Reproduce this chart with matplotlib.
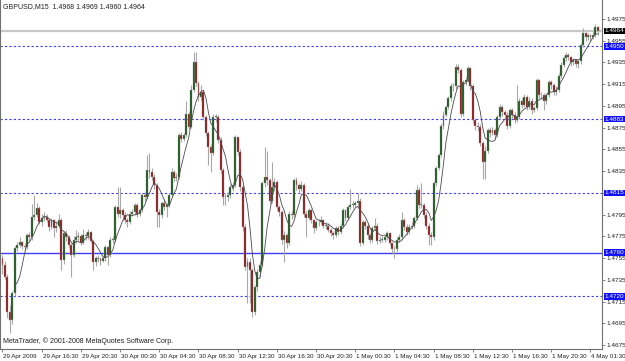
import matplotlib
matplotlib.use("Agg")
import matplotlib.pyplot as plt
import matplotlib.transforms as mtransforms
import numpy as np
import pandas as pd

plt.rcParams['font.family'] = ['Liberation Sans Narrow', 'Liberation Sans', 'DejaVu Sans']

symbol_text = "GBPUSD,M15  1.4968 1.4969 1.4960 1.4964"
copyright_text = "MetaTrader, \u00a9 2001-2008 MetaQuotes Software Corp."

first_open = 1.4755
closes = [
    1.4749, 1.4738, 1.4705, 1.4698, 1.4723, 1.4764, 1.4767, 1.4770, 1.4766, 1.4765,
    1.4776, 1.4774, 1.4793, 1.4795, 1.4801, 1.4788, 1.4792, 1.4793, 1.4790, 1.4784,
    1.4790, 1.4783, 1.4785, 1.4790, 1.4753, 1.4778, 1.4774, 1.4767, 1.4758, 1.4772,
    1.4774, 1.4775, 1.4769, 1.4776, 1.4775, 1.4779, 1.4771, 1.4751, 1.4755, 1.4754,
    1.4752, 1.4755, 1.4765, 1.4758, 1.4772, 1.4772, 1.4802, 1.4796, 1.4799, 1.4795,
    1.4790, 1.4788, 1.4796, 1.4797, 1.4804, 1.4796, 1.4799, 1.4813, 1.4811, 1.4836,
    1.4834, 1.4830, 1.4822, 1.4797, 1.4795, 1.4806, 1.4802, 1.4804, 1.4813, 1.4834,
    1.4829, 1.4830, 1.4868, 1.4865, 1.4868, 1.4888, 1.4876, 1.4910, 1.4935, 1.4916,
    1.4903, 1.4908, 1.4885, 1.4870, 1.4857, 1.4852, 1.4885, 1.4885, 1.4864, 1.4836,
    1.4811, 1.4811, 1.4813, 1.4820, 1.4822, 1.4866, 1.4853, 1.4820, 1.4784, 1.4747,
    1.4751, 1.4744, 1.4705, 1.4728, 1.4742, 1.4749, 1.4824, 1.4830, 1.4827, 1.4808,
    1.4820, 1.4825, 1.4802, 1.4797, 1.4772, 1.4776, 1.4769, 1.4796, 1.4795, 1.4827,
    1.4822, 1.4819, 1.4822, 1.4796, 1.4792, 1.4799, 1.4790, 1.4783, 1.4788, 1.4788,
    1.4790, 1.4785, 1.4785, 1.4781, 1.4778, 1.4776, 1.4783, 1.4779, 1.4785, 1.4799,
    1.4792, 1.4802, 1.4804, 1.4804, 1.4806, 1.4808, 1.4769, 1.4788, 1.4785, 1.4776,
    1.4772, 1.4783, 1.4785, 1.4771, 1.4772, 1.4772, 1.4774, 1.4778, 1.4769, 1.4763,
    1.4763, 1.4772, 1.4774, 1.4790, 1.4784, 1.4779, 1.4784, 1.4785, 1.4792, 1.4818,
    1.4804, 1.4804, 1.4795, 1.4785, 1.4776, 1.4774, 1.4824, 1.4838, 1.4850, 1.4877,
    1.4887, 1.4894, 1.4902, 1.4913, 1.4913, 1.4931, 1.4928, 1.4888, 1.4917, 1.4919,
    1.4930, 1.4913, 1.4882, 1.4877, 1.4876, 1.4861, 1.4843, 1.4854, 1.4873, 1.4870,
    1.4873, 1.4868, 1.4885, 1.4894, 1.4889, 1.4887, 1.4877, 1.4891, 1.4887, 1.4882,
    1.4885, 1.4900, 1.4896, 1.4903, 1.4894, 1.4900, 1.4891, 1.4893, 1.4919, 1.4905,
    1.4905, 1.4900, 1.4905, 1.4917, 1.4914, 1.4908, 1.4910, 1.4923, 1.4933, 1.4939,
    1.4942, 1.4940, 1.4935, 1.4937, 1.4934, 1.4936, 1.4951, 1.4962, 1.4958, 1.4960,
    1.4958, 1.4960, 1.4968, 1.4964,
]
highs = [
    1.4758, 1.4752, 1.4740, 1.4712, 1.4725, 1.4766, 1.4770, 1.4774, 1.4771, 1.4769,
    1.4778, 1.4779, 1.4805, 1.4813, 1.4806, 1.4803, 1.4796, 1.4797, 1.4796, 1.4792,
    1.4792, 1.4791, 1.4789, 1.4796, 1.4792, 1.4780, 1.4781, 1.4776, 1.4769, 1.4775,
    1.4781, 1.4779, 1.4777, 1.4782, 1.4779, 1.4782, 1.4780, 1.4772, 1.4757, 1.4758,
    1.4756, 1.4757, 1.4767, 1.4766, 1.4774, 1.4775, 1.4804, 1.4820, 1.4820, 1.4801,
    1.4797, 1.4792, 1.4798, 1.4800, 1.4806, 1.4806, 1.4801, 1.4815, 1.4816, 1.4850,
    1.4852, 1.4838, 1.4832, 1.4824, 1.4800, 1.4808, 1.4809, 1.4806, 1.4815, 1.4838,
    1.4836, 1.4833, 1.4870, 1.4871, 1.4870, 1.4900, 1.4890, 1.4914, 1.4945, 1.4945,
    1.4918, 1.4914, 1.4910, 1.4887, 1.4872, 1.4860, 1.4888, 1.4888, 1.4887, 1.4866,
    1.4838, 1.4815, 1.4816, 1.4823, 1.4825, 1.4868, 1.4866, 1.4855, 1.4822, 1.4786,
    1.4755, 1.4755, 1.4746, 1.4730, 1.4745, 1.4752, 1.4826, 1.4857, 1.4854, 1.4829,
    1.4843, 1.4829, 1.4827, 1.4804, 1.4799, 1.4780, 1.4778, 1.4798, 1.4799, 1.4829,
    1.4830, 1.4824, 1.4826, 1.4824, 1.4798, 1.4801, 1.4800, 1.4791, 1.4790, 1.4791,
    1.4794, 1.4791, 1.4788, 1.4787, 1.4783, 1.4780, 1.4785, 1.4785, 1.4787, 1.4801,
    1.4800, 1.4804, 1.4819, 1.4808, 1.4808, 1.4815, 1.4810, 1.4790, 1.4790, 1.4787,
    1.4778, 1.4785, 1.4792, 1.4787, 1.4775, 1.4775, 1.4776, 1.4780, 1.4779, 1.4770,
    1.4766, 1.4774, 1.4777, 1.4797, 1.4792, 1.4786, 1.4786, 1.4788, 1.4794, 1.4822,
    1.4820, 1.4824, 1.4806, 1.4797, 1.4787, 1.4779, 1.4826, 1.4840, 1.4852, 1.4879,
    1.4890, 1.4896, 1.4904, 1.4916, 1.4916, 1.4934, 1.4934, 1.4930, 1.4919, 1.4922,
    1.4932, 1.4931, 1.4915, 1.4884, 1.4880, 1.4878, 1.4863, 1.4858, 1.4875, 1.4876,
    1.4876, 1.4875, 1.4887, 1.4897, 1.4896, 1.4891, 1.4889, 1.4893, 1.4893, 1.4889,
    1.4914, 1.4902, 1.4902, 1.4906, 1.4905, 1.4903, 1.4902, 1.4895, 1.4921, 1.4920,
    1.4908, 1.4907, 1.4907, 1.4919, 1.4919, 1.4916, 1.4913, 1.4925, 1.4935, 1.4942,
    1.4945, 1.4944, 1.4941, 1.4939, 1.4938, 1.4938, 1.4953, 1.4967, 1.4963, 1.4962,
    1.4961, 1.4963, 1.4970, 1.4969,
]
lows = [
    1.4740, 1.4736, 1.4700, 1.4686, 1.4694, 1.4720, 1.4762, 1.4765, 1.4763, 1.4762,
    1.4763, 1.4771, 1.4772, 1.4790, 1.4793, 1.4786, 1.4785, 1.4789, 1.4788, 1.4780,
    1.4782, 1.4774, 1.4779, 1.4783, 1.4744, 1.4750, 1.4771, 1.4764, 1.4738, 1.4756,
    1.4769, 1.4771, 1.4767, 1.4768, 1.4772, 1.4773, 1.4769, 1.4744, 1.4748, 1.4751,
    1.4749, 1.4751, 1.4752, 1.4749, 1.4756, 1.4769, 1.4770, 1.4793, 1.4792, 1.4790,
    1.4787, 1.4784, 1.4786, 1.4794, 1.4795, 1.4793, 1.4794, 1.4797, 1.4808, 1.4809,
    1.4829, 1.4827, 1.4819, 1.4784, 1.4784, 1.4792, 1.4799, 1.4793, 1.4802, 1.4811,
    1.4826, 1.4826, 1.4828, 1.4862, 1.4863, 1.4866, 1.4874, 1.4875, 1.4908, 1.4913,
    1.4900, 1.4900, 1.4882, 1.4867, 1.4841, 1.4834, 1.4850, 1.4880, 1.4861, 1.4833,
    1.4804, 1.4804, 1.4808, 1.4810, 1.4817, 1.4820, 1.4850, 1.4817, 1.4780, 1.4744,
    1.4714, 1.4714, 1.4701, 1.4703, 1.4725, 1.4738, 1.4747, 1.4820, 1.4822, 1.4805,
    1.4806, 1.4817, 1.4799, 1.4794, 1.4768, 1.4751, 1.4764, 1.4767, 1.4791, 1.4793,
    1.4818, 1.4815, 1.4817, 1.4793, 1.4774, 1.4790, 1.4787, 1.4778, 1.4781, 1.4785,
    1.4786, 1.4783, 1.4782, 1.4779, 1.4775, 1.4773, 1.4774, 1.4776, 1.4777, 1.4783,
    1.4789, 1.4790, 1.4800, 1.4801, 1.4802, 1.4803, 1.4766, 1.4767, 1.4782, 1.4773,
    1.4769, 1.4770, 1.4781, 1.4768, 1.4769, 1.4770, 1.4770, 1.4772, 1.4767, 1.4760,
    1.4755, 1.4761, 1.4770, 1.4772, 1.4781, 1.4776, 1.4777, 1.4782, 1.4783, 1.4790,
    1.4801, 1.4801, 1.4792, 1.4782, 1.4767, 1.4767, 1.4772, 1.4821, 1.4836, 1.4848,
    1.4874, 1.4885, 1.4892, 1.4900, 1.4909, 1.4911, 1.4925, 1.4885, 1.4886, 1.4914,
    1.4917, 1.4910, 1.4879, 1.4873, 1.4872, 1.4858, 1.4828, 1.4828, 1.4852, 1.4866,
    1.4868, 1.4865, 1.4866, 1.4883, 1.4886, 1.4884, 1.4874, 1.4875, 1.4884, 1.4879,
    1.4880, 1.4883, 1.4893, 1.4894, 1.4891, 1.4892, 1.4888, 1.4889, 1.4891, 1.4902,
    1.4901, 1.4891, 1.4897, 1.4903, 1.4911, 1.4905, 1.4905, 1.4908, 1.4921, 1.4931,
    1.4936, 1.4937, 1.4932, 1.4933, 1.4931, 1.4930, 1.4934, 1.4949, 1.4955, 1.4956,
    1.4955, 1.4957, 1.4958, 1.4960,
]

time_tick_bars = [0, 16, 32, 48, 64, 80, 96, 112, 128, 144, 160, 176, 192, 208, 224, 240]
time_tick_labels = ["29 Apr 2009", "29 Apr 16:30", "29 Apr 20:30", "30 Apr 00:30",
                    "30 Apr 04:30", "30 Apr 08:30", "30 Apr 12:30", "30 Apr 16:30",
                    "30 Apr 20:30", "1 May 00:30", "1 May 04:30", "1 May 08:30",
                    "1 May 12:30", "1 May 16:30", "1 May 20:30", "4 May 01:30"]
price_ticks = [1.4675, 1.4695, 1.4715, 1.4735, 1.4755, 1.4775, 1.4795, 1.4815,
               1.4835, 1.4855, 1.4875, 1.4895, 1.4915, 1.4935, 1.4955, 1.4975]
level_dashed = [1.4950, 1.4883, 1.4815, 1.4720]
level_solid = [1.4760]
bid_price = 1.4964
ma_period = 6

closes_a = np.array(closes)
opens_a = np.concatenate([[first_open], closes_a[:-1]])
highs_a = np.maximum(np.array(highs), np.maximum(opens_a, closes_a))
lows_a = np.minimum(np.array(lows), np.minimum(opens_a, closes_a))
x = np.arange(len(closes_a))

fig = plt.figure(figsize=(6.25, 3.61), dpi=100)
fig.patch.set_facecolor("white")
ax = fig.add_axes([0, 12 / 361, 602 / 625, 349 / 361])
ax.set_xlim(-1.02, 244.7)
ax.set_ylim(1.46714, 1.49925)

FS = 5.0
FSX = 4.5
FSY = 4.6
BLUE = "#3c3cff"

# levels
for lv in level_dashed:
    ax.axhline(lv, color=BLUE, lw=0.8, ls=(0, (2, 2)), zorder=1)
for lv in level_solid:
    ax.axhline(lv, color=BLUE, lw=1.0, zorder=1)
ax.axhline(bid_price, color="#c8c8c8", lw=1.6, zorder=1)

# candles
up = closes_a >= opens_a
ax.vlines(x, lows_a, highs_a, color="#a8a8a8", lw=0.8, zorder=2)
body_h = np.where(np.abs(closes_a - opens_a) < 0.00005, 0.00005, closes_a - opens_a)
colors = np.where(up, "#0f4f0f", "#8b0a0a")
ax.bar(x, body_h, bottom=opens_a, width=0.8, color=colors,
       edgecolor="#a8a8a8", linewidth=0.3, zorder=3)

# moving average
ma = pd.Series(closes_a).rolling(ma_period).mean()
ax.plot(x, ma, color="#4a4a4a", lw=0.6, zorder=4)

# axes styling
ax.spines["top"].set_visible(False)
for s in ["left", "right", "bottom"]:
    ax.spines[s].set_color("#707070")
    ax.spines[s].set_linewidth(0.8)

ax.yaxis.tick_right()
ax.set_yticks(price_ticks)
box_levels = level_dashed + level_solid + [bid_price]
ylabels = ["" if any(abs(p - b) < 0.0003 for b in box_levels) else f"{p:.4f}"
           for p in price_ticks]
ax.set_yticklabels(ylabels, fontsize=FSY, color="#202020")
ax.tick_params(axis="y", length=2.0, width=0.6, pad=1.0, colors="#707070", labelcolor="#202020")

ax.set_xticks(time_tick_bars)
ax.set_xticklabels(time_tick_labels, fontsize=FSX, color="#202020", ha="left")
ax.tick_params(axis="x", length=2.5, width=0.6, pad=1.2, colors="#707070", labelcolor="#202020")
offset = mtransforms.ScaledTranslation(1.0 / 100, 0, fig.dpi_scale_trans)
for lbl in ax.get_xticklabels():
    lbl.set_transform(lbl.get_transform() + offset)

# price label boxes
trans = mtransforms.blended_transform_factory(ax.transAxes, ax.transData)
for lv in level_dashed + level_solid:
    ax.text(1.004, lv, f"{lv:.4f}", transform=trans, fontsize=FSY, color="white",
            ha="left", va="center", zorder=10, clip_on=False,
            bbox=dict(facecolor="#1010ff", edgecolor="none", pad=0.6))
ax.text(1.004, bid_price, f"{bid_price:.4f}", transform=trans, fontsize=FSY, color="white",
        ha="left", va="center", zorder=10, clip_on=False,
        bbox=dict(facecolor="black", edgecolor="none", pad=0.6))

# texts
ax.text(0.005, 0.982, symbol_text, transform=ax.transAxes, fontsize=FS,
        color="#202020", ha="left", va="center")
ax.text(0.005, 0.012, copyright_text, transform=ax.transAxes, fontsize=FS,
        color="#202020", ha="left", va="bottom")

fig.savefig("out.png", dpi=100, facecolor="white")
